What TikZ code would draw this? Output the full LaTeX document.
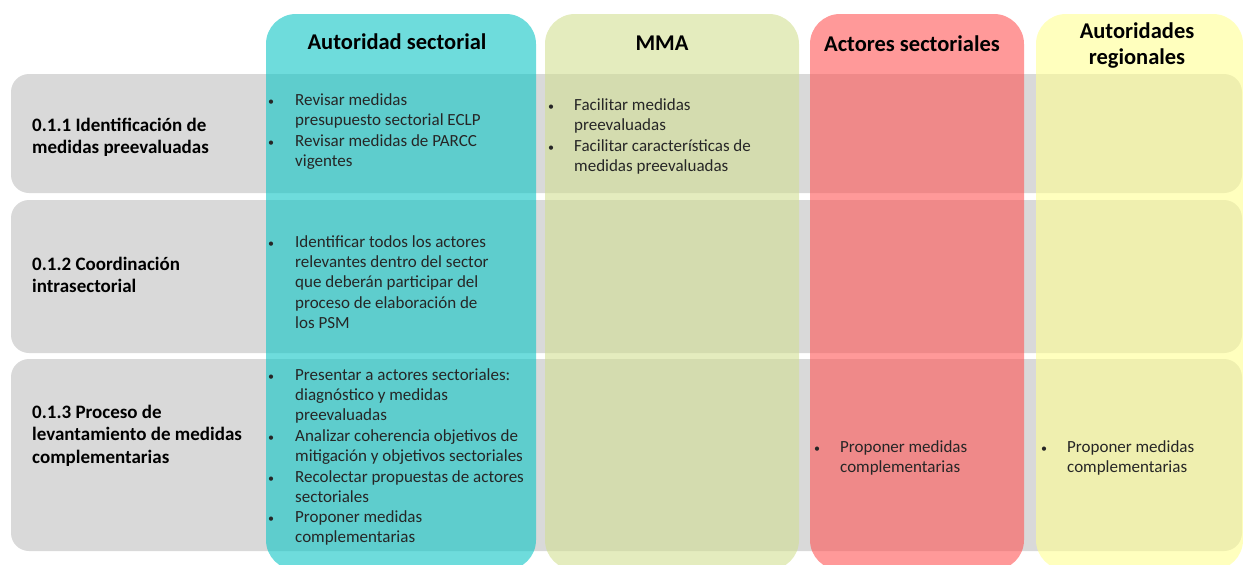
\documentclass[tikz,border=0pt]{standalone}
\usepackage{fontspec}
\setmainfont{Carlito}
\definecolor{rowgray}{RGB}{217,217,217}
\definecolor{cteal}{RGB}{13,197,197}
\definecolor{cgreen}{RGB}{210,223,147}
\definecolor{cred}{RGB}{255,85,85}
\definecolor{cyellow}{RGB}{255,255,147}
\definecolor{bodytext}{RGB}{38,38,38}
\tikzset{
  rowbox/.style={fill=rowgray, draw=none, rounded corners=18pt, anchor=north west, inner sep=0pt, outer sep=0pt},
  colbox/.style={fill opacity=0.6, draw=none, rounded corners=30pt, anchor=north west, inner sep=0pt, outer sep=0pt},
  hdr/.style={font=\fontsize{22.5}{27}\selectfont\bfseries, anchor=base, inner sep=0pt, text=black},
  lbl/.style={font=\fontsize{19}{22.8}\selectfont\bfseries, anchor=base west, inner sep=0pt, text=black},
  bul/.style={font=\fontsize{12}{14}\selectfont, anchor=base, inner sep=0pt, text=bodytext},
  txt/.style={font=\fontsize{17}{20.35}\selectfont, anchor=base west, inner sep=0pt, text=bodytext},
}
\newcommand{\lines}[1]{\parbox[t]{300pt}{\raggedright #1}}
\begin{document}
\begin{tikzpicture}[x=1pt,y=-1pt]
\useasboundingbox (0,0) rectangle (1243,565);
% rows
\node[rowbox, minimum width=1231pt, minimum height=119pt] (r1) at (11,74) {};
\node[rowbox, minimum width=1231pt, minimum height=153pt] (r2) at (11,200) {};
\node[rowbox, minimum width=1231pt, minimum height=192pt] (r3) at (11,359) {};
% columns
\node[colbox, fill=cteal, minimum width=270pt, minimum height=556pt] (c1) at (266,14) {};
\node[colbox, fill=cgreen, minimum width=254pt, minimum height=556pt] (c2) at (545,14) {};
\node[colbox, fill=cred, minimum width=214pt, minimum height=556pt] (c3) at (810,14) {};
\node[colbox, fill=cyellow, minimum width=207pt, minimum height=556pt] (c4) at (1036,14) {};
% headers
\node[hdr] (h1) at (397,49) {Autoridad sectorial};
\node[hdr] (h2) at (662,50) {MMA};
\node[hdr] (h3) at (912,51) {Actores sectoriales};
\node[hdr] (h4a) at (1137,38) {Autoridades};
\node[hdr] (h4b) at (1137,64) {regionales};
% row labels
\node[lbl] (l1) at (32,131) {\lines{0.1.1 Identificación de\\medidas preevaluadas}};
\node[lbl] (l2) at (32,270) {\lines{0.1.2 Coordinación\\intrasectorial}};
\node[lbl] (l3) at (32,418) {\lines{0.1.3 Proceso de\\levantamiento de medidas\\complementarias}};
% Autoridad sectorial, row 1
\node[bul] (b11) at (271,105) {\textbullet};
\node[txt] (t11) at (295,105) {\lines{Revisar medidas\\presupuesto sectorial ECLP}};
\node[bul] (b12) at (271,146) {\textbullet};
\node[txt] (t12) at (295,146) {\lines{Revisar medidas de PARCC\\vigentes}};
% row 2
\node[bul] (b21) at (271,247) {\textbullet};
\node[txt] (t21) at (295,247) {\lines{Identificar todos los actores\\relevantes dentro del sector\\que deberán participar del\\proceso de elaboración de\\los PSM}};
% row 3
\node[bul] (b31) at (271,380) {\textbullet};
\node[txt] (t31) at (295,380) {\lines{Presentar a actores sectoriales:\\diagnóstico y medidas\\preevaluadas}};
\node[bul] (b32) at (271,441) {\textbullet};
\node[txt] (t32) at (295,441) {\lines{Analizar coherencia objetivos de\\mitigación y objetivos sectoriales}};
\node[bul] (b33) at (271,482) {\textbullet};
\node[txt] (t33) at (295,482) {\lines{Recolectar propuestas de actores\\sectoriales}};
\node[bul] (b34) at (271,522) {\textbullet};
\node[txt] (t34) at (295,522) {\lines{Proponer medidas\\complementarias}};
% MMA
\node[bul] (m1) at (551,110) {\textbullet};
\node[txt] (mt1) at (574,110) {\lines{Facilitar medidas\\preevaluadas}};
\node[bul] (m2) at (551,151) {\textbullet};
\node[txt] (mt2) at (574,151) {\lines{Facilitar características de\\medidas preevaluadas}};
% Actores sectoriales
\node[bul] (a1) at (817,452) {\textbullet};
\node[txt] (at1) at (840,452) {\lines{Proponer medidas\\complementarias}};
% Autoridades regionales
\node[bul] (y1) at (1044,452) {\textbullet};
\node[txt] (yt1) at (1067,452) {\lines{Proponer medidas\\complementarias}};
\end{tikzpicture}
\end{document}
